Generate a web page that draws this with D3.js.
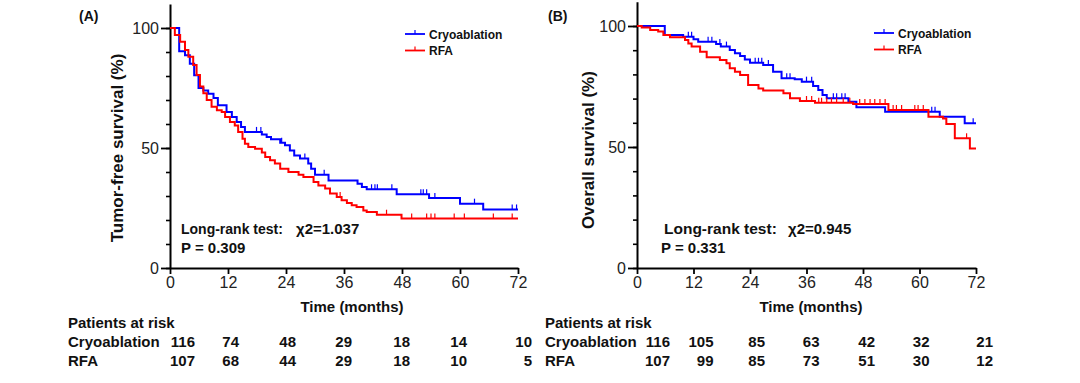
<!DOCTYPE html>
<html><head><meta charset="utf-8">
<script src="https://cdn.jsdelivr.net/npm/d3@7"></script>
<style>
body{margin:0;background:#fff;}
svg{display:block;font-family:Arial,"Liberation Sans",sans-serif;}
</style></head><body>
<svg id="chart" width="1080" height="383"></svg>
<script>
// ---------------- DATA ----------------
const timeTicks = [0, 12, 24, 36, 48, 60, 72];
const survTicks = [0, 50, 100];
const groups = ["Cryoablation", "RFA"];

// Panel A: tumor-free survival, events [time, survival %]
const cryoTFS = [[1.9,90.3],[3.1,88.6],[4.1,85.1],[5.0,80.3],[5.9,75],[6.9,74],[7.9,72.6],[9.0,70.8],[9.9,67.8],[11.7,65],[12.8,62.9],[13.8,60.8],[14.7,58.8],[15.5,56.7],[19.0,55.6],[20.0,54.6],[20.9,53.6],[22.8,52.2],[23.8,51.1],[24.8,49],[25.7,46.9],[26.9,45.6],[28.6,43.5],[29.2,41.4],[30.0,38.9],[32.8,36.5],[38.8,35.1],[39.7,33.8],[40.7,32.8],[46.9,30.7],[53.6,29.2],[60.0,26.8],[64.8,24.4]];
const cryoTFSCensor = [17.9,18.8,23.1,27.9,31.9,41.7,42.4,42.9,45.9,51.9,52.4,53.1,54.8,63.0,70.8,71.7];
const rfaTFS = [[1.0,97.1],[2.1,94.3],[3.1,90.8],[3.8,88],[4.8,84.6],[5.5,80.4],[6.2,75.6],[6.9,72.8],[7.6,70],[8.6,67.2],[9.7,65.7],[10.7,65],[11.4,62.9],[12.4,60.8],[13.4,59.4],[14.1,56.7],[15.0,53.9],[15.5,51.8],[16.2,50.4],[17.6,49.7],[19.0,48.1],[19.7,46.3],[20.7,44.9],[21.7,43.5],[22.8,41.4],[24.5,40],[26.6,38.9],[27.6,37.9],[29.7,35.8],[30.7,34.4],[32.1,33.1],[33.1,31],[34.5,29.6],[35.5,28.2],[36.6,27.1],[37.6,26.1],[38.6,25.4],[40.0,24],[40.7,23.3],[42.8,22.2],[47.9,20.6]];
const rfaTFSCensor = [35.2,44.8,50.0,53.1,54.0,54.8,58.8,60.9,66.9,70.8];

// Panel B: overall survival
const cryoOS = [[5.9,96.3],[9.8,95.6],[12.0,94.5],[13.0,93.5],[16.8,92.6],[17.8,91.5],[19.7,90.1],[20.8,88.7],[21.9,87.6],[22.9,86.2],[24.0,84.8],[26.8,83.9],[28.9,81.1],[30.7,78.4],[33.5,78],[35.0,77],[37.4,75.2],[38.5,73.6],[39.4,71.5],[40.3,70.1],[44.9,68.7],[46.6,66.4],[52.7,64.6],[64.3,62.5],[69.6,59.8]];
const cryoOSCensor = [10.9,11.6,15.1,15.9,17.6,19.0,25.1,25.8,26.5,27.9,31.8,32.5,36.0,37.1,41.7,42.4,43.5,44.2,62.6,63.3,71.4];
const rfaOS = [[1.0,99.4],[2.8,98.3],[4.5,97.7],[5.6,96.3],[7.0,95.3],[10.2,94.2],[10.9,92.8],[11.6,91.5],[13.4,89.4],[14.8,87.1],[17.6,86],[19.0,84.6],[19.7,82.5],[20.8,81.1],[21.9,79.8],[23.6,75.6],[25.8,74.2],[26.8,73.3],[31.1,72.2],[32.5,70.1],[34.6,69],[37.8,68.3],[45.9,67.8],[53.4,65.3],[61.9,62.5],[65.0,61.8],[65.7,59.5],[67.5,53.6],[70.7,49.4]];
const rfaOSCensor = [36.0,37.1,38.6,39.2,40.3,41.3,42.4,43.8,45.2,47.3,48.4,49.5,50.5,51.6,52.7,54.4,55.1,56.2,59.0,59.7,60.8,70.0];

// Numbers at risk
const riskCryoA = [116, 74, 48, 29, 18, 14, 10];
const riskRfaA  = [107, 68, 44, 29, 18, 10, 5];
const riskCryoB = [116, 105, 85, 63, 42, 32, 21];
const riskRfaB  = [107, 99, 85, 73, 51, 30, 12];

// Texts
const statA = ["Long-rank test:", "\u03C72=1.037", "P = 0.309"];
const statB = ["Long-rank test:", "\u03C72=0.945", "P = 0.331"];

// ---------------- LAYOUT ----------------
const colors = {Cryoablation: "#0000ff", RFA: "#ff0000"};
const svg = d3.select("#chart");

function drawPanel(cfg) {
  const g = svg.append("g");
  const x = d3.scaleLinear().domain([0, 72]).range([cfg.x0, cfg.x1]);
  const y = d3.scaleLinear().domain([0, 110]).range([cfg.y0, cfg.y0 - cfg.pxPer10 * 11]);

  // minor y ticks
  g.append("g").attr("transform", `translate(${cfg.x0},0)`)
    .call(d3.axisLeft(y).tickValues(d3.range(0, 101, 10)).tickSize(4).tickFormat(""))
    .call(s => s.select(".domain").remove())
    .call(s => s.selectAll("line").attr("stroke", "#000").attr("stroke-width", 1.6));
  // major y axis
  g.append("g").attr("transform", `translate(${cfg.x0},0)`)
    .call(d3.axisLeft(y).tickValues(survTicks).tickSize(9).tickSizeOuter(0).tickPadding(2))
    .call(s => s.select(".domain").attr("stroke", "#000").attr("stroke-width", 2))
    .call(s => s.selectAll("line").attr("stroke", "#000").attr("stroke-width", 1.8))
    .call(s => s.selectAll("text").attr("font-size", 16).attr("fill", "#222")
      .attr("font-family", "Arial, 'Liberation Sans', sans-serif"));
  // x axis
  g.append("g").attr("transform", `translate(0,${cfg.y0})`)
    .call(d3.axisBottom(x).tickValues(timeTicks).tickSize(6).tickSizeOuter(0).tickPadding(3))
    .call(s => s.select(".domain").attr("stroke", "#000").attr("stroke-width", 2))
    .call(s => s.selectAll("line").attr("stroke", "#000").attr("stroke-width", 1.8))
    .call(s => s.selectAll("text").attr("font-size", 16).attr("fill", "#222")
      .attr("font-family", "Arial, 'Liberation Sans', sans-serif"));

  // axis titles
  g.append("text").attr("transform", `translate(${cfg.yTitleX},${cfg.yTitleY}) rotate(-90)`)
    .attr("text-anchor", "middle").attr("font-weight", "bold").attr("font-size", 17)
    .attr("fill", "#111").text(cfg.yTitle);
  g.append("text").attr("x", cfg.xTitleX).attr("y", 312).attr("text-anchor", "middle")
    .attr("font-weight", "bold").attr("font-size", 15).attr("fill", "#111").text("Time (months)");
  // panel label
  g.append("text").attr("x", cfg.labelX).attr("y", 21).attr("font-weight", "bold")
    .attr("font-size", 14).attr("fill", "#111").text(cfg.label);

  // curves
  const line = d3.line().x(d => x(d[0])).y(d => y(d[1])).curve(d3.curveStepAfter);
  cfg.series.forEach(s => {
    const pts = [[0, 100], ...s.events];
    pts.push([72, pts[pts.length - 1][1]]);
    g.append("path").datum(pts).attr("d", line).attr("fill", "none")
      .attr("stroke", colors[s.name]).attr("stroke-width", 2);
    const survAt = t => { let v = 100; s.events.forEach(e => { if (e[0] <= t) v = e[1]; }); return v; };
    g.selectAll(null).data(s.censor).join("line")
      .attr("x1", d => x(d)).attr("x2", d => x(d))
      .attr("y1", d => y(survAt(d))).attr("y2", d => y(survAt(d)) - 5)
      .attr("stroke", colors[s.name]).attr("stroke-width", 1.2);
  });

  // legend
  groups.forEach((name, i) => {
    const ly = cfg.legendY + i * 16.5;
    g.append("line").attr("x1", cfg.legendX).attr("x2", cfg.legendX + 20)
      .attr("y1", ly).attr("y2", ly).attr("stroke", colors[name]).attr("stroke-width", 1.8);
    g.append("line").attr("x1", cfg.legendX + 10).attr("x2", cfg.legendX + 10)
      .attr("y1", ly).attr("y2", ly - 4).attr("stroke", colors[name]).attr("stroke-width", 1.2);
    g.append("text").attr("x", cfg.legendX + 24).attr("y", ly + 4.5)
      .attr("font-weight", "bold").attr("font-size", 12).attr("fill", "#111").text(name);
  });

  // stats
  const statPos = [[cfg.statX, 234], [cfg.chiX, 234], [cfg.pX, 253]];
  cfg.stat.forEach((t, i) => {
    g.append("text").attr("x", statPos[i][0]).attr("y", statPos[i][1])
      .attr("font-weight", "bold").attr("font-size", cfg.statSizes[i])
      .attr("fill", "#111").text(t);
  });

  // risk table
  const rows = [["Patients at risk", null, 328], ["Cryoablation", cfg.riskCryo, 347], ["RFA", cfg.riskRfa, 366]];
  rows.forEach(r => {
    g.append("text").attr("x", cfg.tableX).attr("y", r[2]).attr("font-weight", "bold")
      .attr("font-size", 15).attr("fill", "#111").text(r[0]);
    if (r[1]) {
      g.selectAll(null).data(r[1]).join("text")
        .attr("x", (d, i) => x(timeTicks[i]) + cfg.riskOffsets[i]).attr("y", r[2])
        .attr("text-anchor", "end").attr("font-weight", "bold").attr("font-size", 15)
        .attr("fill", "#111").text(d => d);
    }
  });
}

drawPanel({
  x0: 170, x1: 518, y0: 268, pxPer10: 24,
  yTitle: "Tumor-free survival (%)", yTitleX: 123, yTitleY: 148, xTitleX: 352,
  label: "(A)", labelX: 79,
  series: [{name: "Cryoablation", events: cryoTFS, censor: cryoTFSCensor},
           {name: "RFA", events: rfaTFS, censor: rfaTFSCensor}],
  legendX: 405, legendY: 34,
  stat: statA, statX: 181, chiX: 296, pX: 181,
  statSizes: [14, 15, 15],
  tableX: 68, riskCryo: riskCryoA, riskRfa: riskRfaA,
  riskOffsets: [25, 11, 10, 8, 8, 7, 14]
});
drawPanel({
  x0: 637, x1: 976, y0: 268, pxPer10: 24.2,
  yTitle: "Overall survival (%)", yTitleX: 594, yTitleY: 150, xTitleX: 811,
  label: "(B)", labelX: 548,
  series: [{name: "Cryoablation", events: cryoOS, censor: cryoOSCensor},
           {name: "RFA", events: rfaOS, censor: rfaOSCensor}],
  legendX: 874, legendY: 33,
  stat: statB, statX: 664, chiX: 788, pX: 661,
  statSizes: [15.5, 15, 15],
  tableX: 545, riskCryo: riskCryoB, riskRfa: riskRfaB,
  riskOffsets: [33, 20, 15, 13, 12, 10, 17]
});
</script></body></html>
